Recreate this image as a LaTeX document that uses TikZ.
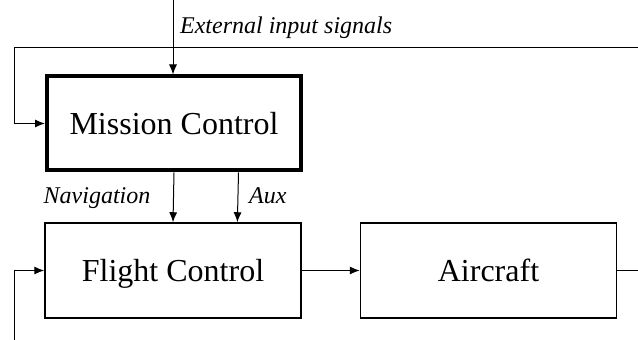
\documentclass[tikz,border=0pt]{standalone}
\usepackage{fontspec}
\setmainfont{Liberation Serif}
\usepackage{tikz}
\usetikzlibrary{arrows.meta,calc,positioning}
\tikzstyle{block}=[rectangle,draw,line width=0.75pt,minimum width=128pt,minimum height=47.5pt,font=\fontsize{16}{19}\selectfont,text height=12pt,text depth=1pt]
\tikzstyle{sig}=[line width=0.5pt,-{Latex[length=5pt,width=4pt]}]
\tikzstyle{lbl}=[font=\fontsize{12}{14}\selectfont\itshape,text height=9pt,text depth=3pt]

\begin{document}
\begin{tikzpicture}[x=0.5pt,y=-0.5pt]
  \useasboundingbox (0,0) rectangle (638,340);
  \node[block,line width=2pt,minimum width=127pt,minimum height=47pt]
    (mission) at (174,123.5) {Mission Control};
  \node[block] (flight) at (173,270.5) {Flight Control};
  \node[block, right=29pt of flight] (aircraft) {Aircraft};
  % free ends
  \coordinate (ext) at (173,0);
  \coordinate (fbtop) at (638,48);
  \coordinate (fbbot) at (14,340);
  \coordinate (out) at (638,273);
  \draw[sig] (ext) -- node[lbl,right,pos=0.37]{External input signals}
    (ext |- mission.north);
  \draw[sig] (fbtop) -- (14,48) |- (mission.west);
  \draw[sig] ($(mission.south west)!0.5!(mission.south east)$) --
    node[lbl,left,xshift=-8pt]{Navigation}
    ($(flight.north west)!0.5!(flight.north east)$);
  \draw[sig] ($(mission.south west)!0.75!(mission.south east)$) --
    node[lbl,right,xshift=2pt]{Aux}
    ($(flight.north west)!0.75!(flight.north east)$);
  \draw[sig] (fbbot) |- (flight.west);
  \draw[sig] (flight) -- (aircraft);
  \draw[line width=0.5pt] (aircraft.east) -- (out |- aircraft.east);
\end{tikzpicture}
\end{document}
